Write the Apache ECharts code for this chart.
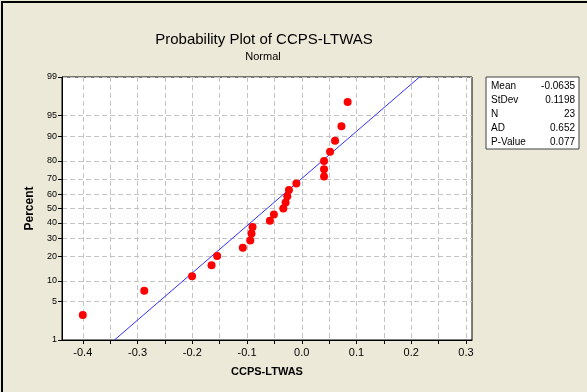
<!DOCTYPE html>
<html><head><meta charset="utf-8">
<script src="https://cdn.jsdelivr.net/npm/echarts@6/dist/echarts.min.js"></script>
<style>html,body{margin:0;padding:0;background:#fff}#c{width:587px;height:392px}</style>
</head><body><div id="c"></div>
<script>
// ---- data ----
const titleText = 'Probability Plot of CCPS-LTWAS';
const subtitleText = 'Normal';
const xName = 'CCPS-LTWAS';
const yName = 'Percent';
const values = [-0.400, -0.2877, -0.2004, -0.1648, -0.1546, -0.1077, -0.0941, -0.0918, -0.0899,
  -0.0582, -0.0509, -0.0337, -0.0295, -0.0264, -0.0234, -0.0099, 0.0407, 0.0407, 0.0407,
  0.0517, 0.0608, 0.0725, 0.0838];
const percentTicks = [1, 5, 10, 20, 30, 40, 50, 60, 70, 80, 90, 95, 99];
const xLabelTicks = [-0.4, -0.3, -0.2, -0.1, 0.0, 0.1, 0.2, 0.3];
const xMinorTicks = [-0.4, -0.35, -0.3, -0.25, -0.2, -0.15, -0.1, -0.05, 0, 0.05, 0.1, 0.15, 0.2, 0.25, 0.3];
const fitMean = -0.0635;
const fitStDev = 0.1198;
const statLabels = ['Mean', 'StDev', 'N', 'AD', 'P-Value'];
const statValues = ['-0.0635', '0.1198', '23', '0.652', '0.077'];
const xMin = -0.438, xMax = 0.311;

// inverse normal CDF (Acklam)
function probit(p) {
  const a=[-3.969683028665376e+01,2.209460984245205e+02,-2.759285104469687e+02,1.383577518672690e+02,-3.066479806614716e+01,2.506628277459239e+00];
  const b=[-5.447609879822406e+01,1.615858368580409e+02,-1.556989798598866e+02,6.680131188771972e+01,-1.328068155288572e+01];
  const c=[-7.784894002430293e-03,-3.223964580411365e-01,-2.400758277161838e+00,-2.549732539343734e+00,4.374664141464968e+00,2.938163982698783e+00];
  const d=[7.784695709041462e-03,3.224671290700398e-01,2.445134137142996e+00,3.754408661907416e+00];
  const pl=0.02425, ph=1-pl; let q,r;
  if(p<pl){q=Math.sqrt(-2*Math.log(p));return (((((c[0]*q+c[1])*q+c[2])*q+c[3])*q+c[4])*q+c[5])/((((d[0]*q+d[1])*q+d[2])*q+d[3])*q+1);}
  if(p<=ph){q=p-0.5;r=q*q;return (((((a[0]*r+a[1])*r+a[2])*r+a[3])*r+a[4])*r+a[5])*q/(((((b[0]*r+b[1])*r+b[2])*r+b[3])*r+b[4])*r+1);}
  q=Math.sqrt(-2*Math.log(1-p));return -(((((c[0]*q+c[1])*q+c[2])*q+c[3])*q+c[4])*q+c[5])/((((d[0]*q+d[1])*q+d[2])*q+d[3])*q+1);
}
const n = values.length;
const sorted = values.slice().sort((a,b)=>a-b);
const pts = sorted.map((v,i)=>[v, probit((i+1-0.3)/(n+0.4))]);
const zLo = probit(0.01), zHi = probit(0.99);
const fitLine = [[fitMean + fitStDev*zLo, zLo], [fitMean + fitStDev*zHi, zHi]];
const yTickVals = percentTicks.map(p=>probit(p/100));
const labelMap = {}; percentTicks.forEach((p,i)=>{labelMap[yTickVals[i].toFixed(6)] = String(p);});

const FONT = 'Liberation Sans';
const grid = {left: 62, top: 77, right: 115, bottom: 52};
const chart = echarts.init(document.getElementById('c'), null, {renderer: 'canvas'});
const gridLine = {show: true, lineStyle: {color: '#c4c4c4', type: [5, 3], width: 1}};

const statChildren = [{type:'rect', shape:{x:0,y:0,width:93,height:72}, style:{fill:'#fff', stroke:'#404040', lineWidth:1}}];
statLabels.forEach((l,i)=>{
  statChildren.push({type:'text', x:5, y:9+i*14, style:{text:l, fill:'#000', font:'10px '+FONT, textVerticalAlign:'middle'}});
  statChildren.push({type:'text', x:89, y:9+i*14, style:{text:statValues[i], fill:'#000', font:'10px '+FONT, textAlign:'right', textVerticalAlign:'middle'}});
});

chart.setOption({
  animation: false,
  backgroundColor: '#ece9d8',
  title: [
    {text: titleText, left: 259, top: 27, textAlign: 'center', textStyle: {fontFamily: FONT, fontSize: 15, fontWeight: 'normal', color: '#000'}},
    {text: subtitleText, left: 258, top: 46, textAlign: 'center', textStyle: {fontFamily: FONT, fontSize: 11, fontWeight: 'normal', color: '#000'}}
  ],
  grid: Object.assign({show: true, backgroundColor: '#fff', borderColor: '#000', borderWidth: 1, containLabel: false}, grid),
  xAxis: {
    type: 'value', min: xMin, max: xMax,
    name: xName, nameLocation: 'middle', nameGap: 26,
    nameTextStyle: {fontFamily: FONT, fontSize: 11, fontWeight: 'bold', color: '#000'},
    axisLine: {show: true, onZero: false, lineStyle: {color: '#000'}},
    axisTick: {show: true, length: 4, customValues: xMinorTicks, lineStyle: {color: '#000'}},
    axisLabel: {customValues: xLabelTicks, fontFamily: FONT, fontSize: 11, color: '#000', margin: 7,
      formatter: v => (Math.abs(v) < 1e-9 ? 0 : v).toFixed(1)},
    splitLine: gridLine
  },
  yAxis: {
    type: 'value', min: zLo, max: zHi,
    name: yName, nameLocation: 'middle', nameGap: 26, nameRotate: 90,
    nameTextStyle: {fontFamily: FONT, fontSize: 12, fontWeight: 'bold', color: '#000'},
    axisLine: {show: true, onZero: false, lineStyle: {color: '#000'}},
    axisTick: {show: true, length: 4, customValues: yTickVals, lineStyle: {color: '#000'}},
    axisLabel: {customValues: yTickVals, fontFamily: FONT, fontSize: 9, color: '#000', margin: 5,
      formatter: v => labelMap[v.toFixed(6)] || ''},
    splitLine: gridLine
  },
  series: [
    {type: 'line', data: fitLine, showSymbol: false, symbol: 'none', lineStyle: {color: '#3030ff', width: 1}, z: 2, silent: true},
    {type: 'scatter', data: pts, symbol: 'circle', symbolSize: 8, itemStyle: {color: '#ff0000', opacity: 1}, z: 3}
  ],
  graphic: [
    {type: 'rect', shape: {x: 1, y: 1, width: 600, height: 2}, style: {fill: '#000'}},
    {type: 'rect', shape: {x: 1, y: 1, width: 2, height: 400}, style: {fill: '#000'}},
    {type: 'group', x: 486, y: 77, children: statChildren}
  ]
});
</script></body></html>
